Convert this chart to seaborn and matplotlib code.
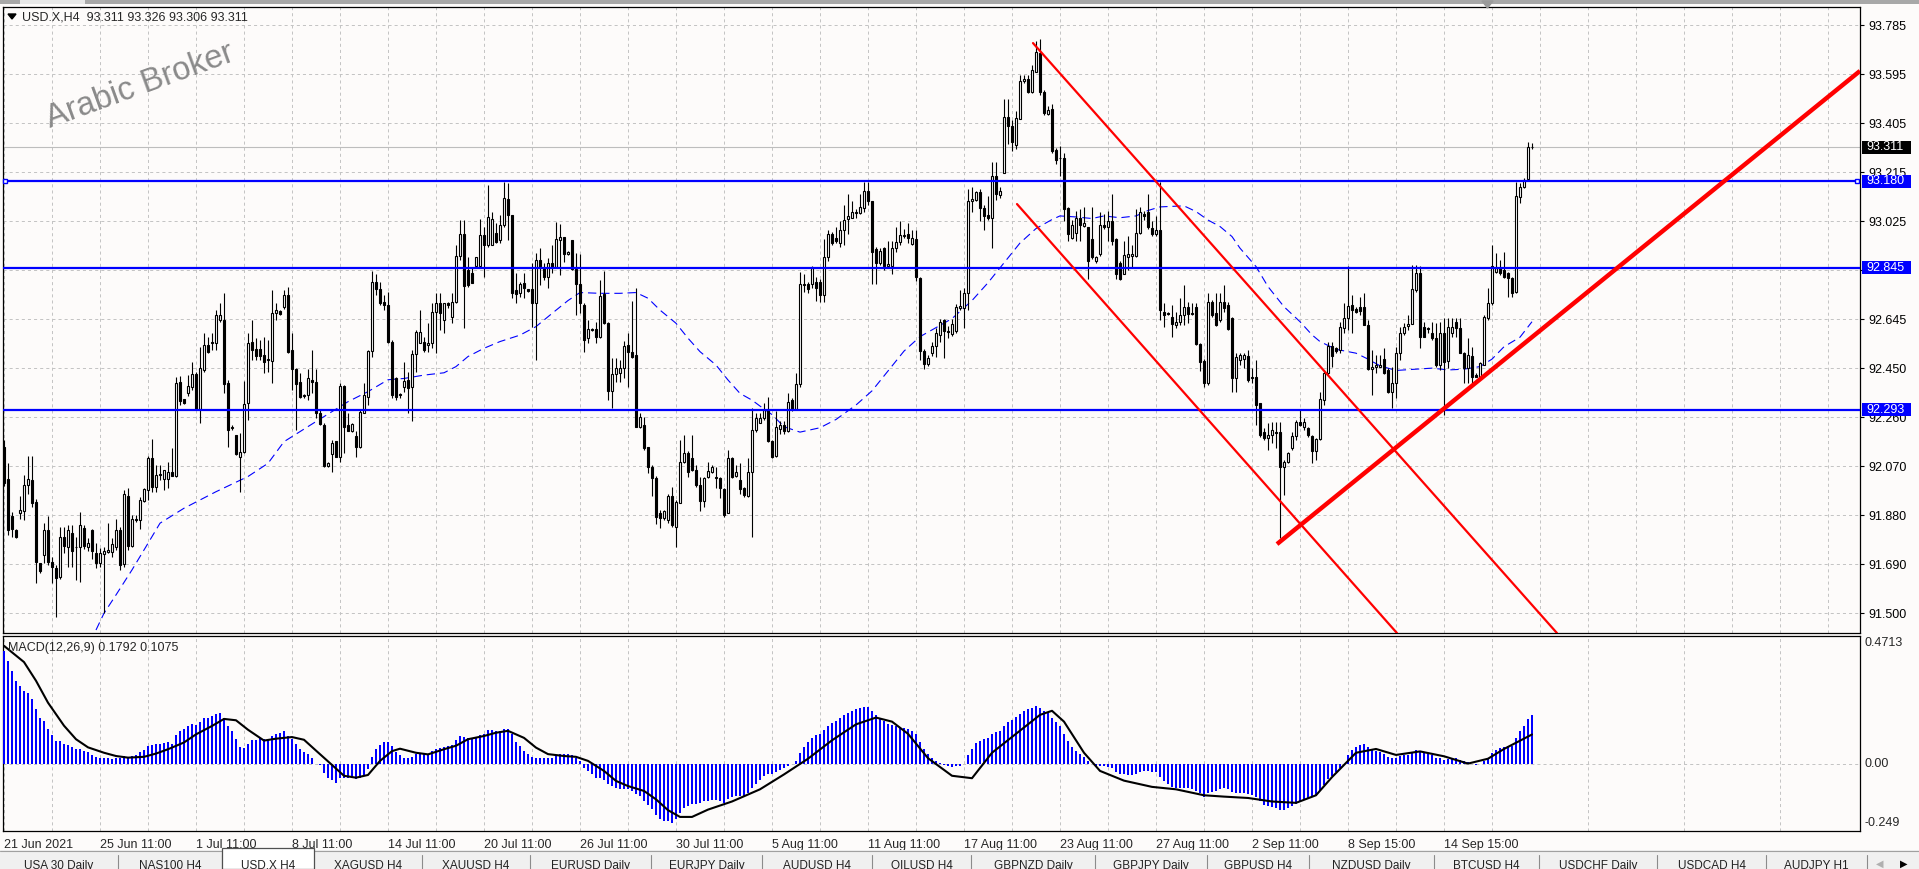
import numpy as np
import matplotlib
matplotlib.use('Agg')
import matplotlib.pyplot as plt
import matplotlib.transforms as mtransforms
from matplotlib.patches import Rectangle, Polygon
import seaborn as sns

sns.set_style('white')
plt.rcParams['font.family'] = ['Liberation Sans', 'DejaVu Sans']
plt.rcParams['lines.scale_dashes'] = False

# ---- USD.X H4 candles (bar 0 = 21 Jun 2021) ----
opens = [
    92.151, 92.025, 91.882, 91.828, 91.895, 91.903, 92.002, 92.021, 91.937, 91.699,
    91.731, 91.828, 91.705, 91.679, 91.644, 91.800, 91.763, 91.817, 91.760, 91.760,
    91.835, 91.763, 91.828, 91.740, 91.699, 91.735, 91.743, 91.743, 91.760, 91.828,
    91.696, 91.960, 91.766, 91.869, 91.866, 91.940, 91.983, 92.105, 91.996, 92.043,
    92.024, 92.024, 92.052, 92.037, 92.403, 92.334, 92.360, 92.383, 92.431, 92.297,
    92.448, 92.545, 92.555, 92.551, 92.640, 92.642, 92.396, 92.223, 92.196, 92.112,
    92.131, 92.320, 92.555, 92.528, 92.528, 92.505, 92.489, 92.484, 92.668, 92.677,
    92.693, 92.739, 92.525, 92.450, 92.400, 92.352, 92.350, 92.409, 92.400, 92.280,
    92.236, 92.076, 92.122, 92.173, 92.112, 92.386, 92.235, 92.213, 92.192, 92.148,
    92.280, 92.345, 92.522, 92.790, 92.760, 92.710, 92.700, 92.558, 92.415, 92.355,
    92.380, 92.409, 92.383, 92.510, 92.551, 92.558, 92.545, 92.551, 92.674, 92.709,
    92.640, 92.709, 92.654, 92.713, 92.890, 92.975, 92.836, 92.823, 92.851, 92.851,
    92.971, 92.933, 92.933, 92.977, 92.952, 93.010, 93.110, 93.050, 92.758, 92.745,
    92.786, 92.760, 92.760, 92.709, 92.874, 92.842, 92.810, 92.864, 92.846, 92.952,
    92.962, 92.897, 92.952, 92.838, 92.781, 92.700, 92.571, 92.605, 92.605, 92.574,
    92.742, 92.631, 92.368, 92.431, 92.435, 92.454, 92.545, 92.519, 92.506, 92.228,
    92.235, 92.151, 92.073, 92.028, 91.895, 91.876, 91.867, 91.960, 91.838, 91.931,
    92.090, 92.128, 92.108, 92.060, 92.002, 91.941, 92.034, 92.053, 92.034, 92.028,
    91.985, 91.895, 92.108, 92.038, 92.021, 91.989, 91.960, 92.053, 92.215, 92.244,
    92.260, 92.293, 92.174, 92.116, 92.219, 92.235, 92.210, 92.332, 92.298, 92.395,
    92.780, 92.780, 92.780, 92.787, 92.787, 92.740, 92.884, 92.975, 92.961, 92.940,
    92.989, 93.034, 93.038, 93.059, 93.056, 93.076, 93.140, 93.104, 92.916, 92.863,
    92.919, 92.849, 92.852, 92.922, 92.943, 92.968, 92.975, 92.937, 92.954, 92.803,
    92.521, 92.472, 92.514, 92.542, 92.584, 92.640, 92.598, 92.587, 92.598, 92.689,
    92.689, 92.745, 93.103, 93.108, 93.136, 93.076, 93.048, 93.038, 93.198, 93.126,
    93.212, 93.429, 93.394, 93.321, 93.419, 93.569, 93.576, 93.527, 93.603, 93.676,
    93.527, 93.439, 93.461, 93.299, 93.271, 93.268, 93.076, 92.961, 92.978, 93.038,
    93.007, 93.003, 92.954, 92.870, 92.898, 93.010, 93.003, 93.024, 92.954, 92.863,
    92.821, 92.884, 92.891, 92.891, 92.978, 93.052, 93.059, 93.000, 92.975, 92.991,
    92.674, 92.670, 92.655, 92.622, 92.635, 92.661, 92.693, 92.670, 92.693, 92.549,
    92.484, 92.396, 92.713, 92.670, 92.642, 92.713, 92.700, 92.648, 92.416, 92.487,
    92.489, 92.502, 92.422, 92.422, 92.319, 92.209, 92.183, 92.196, 92.209, 92.209,
    92.073, 92.092, 92.144, 92.192, 92.248, 92.228, 92.222, 92.192, 92.135, 92.180,
    92.332, 92.435, 92.541, 92.532, 92.526, 92.610, 92.648, 92.700, 92.683, 92.693,
    92.691, 92.622, 92.451, 92.458, 92.461, 92.489, 92.448, 92.364, 92.396, 92.513,
    92.590, 92.619, 92.626, 92.758, 92.825, 92.613, 92.610, 92.590, 92.571, 92.467,
    92.590, 92.484, 92.590, 92.635, 92.610, 92.515, 92.455, 92.502, 92.428, 92.422,
    92.467, 92.648, 92.706, 92.829, 92.842, 92.836, 92.823, 92.803, 92.751, 93.120,
    93.159, 93.190, 93.311,
]
highs = [
    92.177, 92.089, 91.899, 91.830, 91.960, 92.041, 92.116, 92.116, 91.947, 91.700,
    91.854, 91.882, 91.724, 91.692, 91.838, 91.838, 91.847, 91.847, 91.802, 91.899,
    91.847, 91.795, 91.832, 91.779, 91.757, 91.763, 91.853, 91.795, 91.869, 91.838,
    91.983, 91.990, 91.885, 91.885, 91.957, 91.990, 92.116, 92.180, 92.080, 92.080,
    92.060, 92.093, 92.144, 92.422, 92.425, 92.336, 92.428, 92.480, 92.441, 92.538,
    92.590, 92.577, 92.590, 92.680, 92.706, 92.745, 92.409, 92.235, 92.196, 92.203,
    92.407, 92.590, 92.642, 92.570, 92.564, 92.577, 92.564, 92.758, 92.706, 92.680,
    92.758, 92.770, 92.590, 92.455, 92.435, 92.355, 92.450, 92.525, 92.450, 92.293,
    92.241, 92.093, 92.177, 92.173, 92.399, 92.390, 92.280, 92.244, 92.213, 92.293,
    92.396, 92.525, 92.830, 92.820, 92.790, 92.740, 92.750, 92.564, 92.422, 92.360,
    92.480, 92.441, 92.525, 92.603, 92.680, 92.577, 92.629, 92.706, 92.745, 92.745,
    92.709, 92.710, 92.745, 92.932, 93.030, 93.030, 92.887, 92.842, 92.887, 93.032,
    93.003, 93.165, 93.062, 93.016, 93.049, 93.178, 93.171, 93.050, 92.822, 92.790,
    92.822, 92.760, 92.861, 92.900, 92.919, 92.861, 92.881, 92.932, 93.023, 93.014,
    92.965, 92.910, 92.952, 92.900, 92.897, 92.706, 92.641, 92.610, 92.635, 92.797,
    92.833, 92.635, 92.493, 92.493, 92.487, 92.561, 92.590, 92.717, 92.764, 92.280,
    92.267, 92.151, 92.080, 92.037, 91.905, 91.905, 91.967, 91.995, 91.944, 92.176,
    92.196, 92.132, 92.196, 92.080, 92.034, 92.034, 92.092, 92.080, 92.073, 92.034,
    91.989, 92.138, 92.112, 92.079, 92.086, 91.995, 92.105, 92.299, 92.280, 92.280,
    92.319, 92.344, 92.177, 92.290, 92.249, 92.250, 92.360, 92.340, 92.437, 92.828,
    92.821, 92.787, 92.850, 92.807, 92.801, 92.954, 92.989, 92.982, 93.003, 93.024,
    93.087, 93.129, 93.101, 93.073, 93.129, 93.178, 93.178, 93.104, 92.926, 92.919,
    92.926, 92.947, 92.947, 93.003, 93.024, 92.996, 93.017, 92.989, 92.989, 92.807,
    92.528, 92.507, 92.556, 92.612, 92.647, 92.647, 92.619, 92.647, 92.703, 92.759,
    92.766, 93.150, 93.157, 93.143, 93.150, 93.087, 93.122, 93.254, 93.254, 93.157,
    93.499, 93.499, 93.415, 93.450, 93.590, 93.590, 93.590, 93.631, 93.722, 93.729,
    93.534, 93.471, 93.478, 93.310, 93.317, 93.289, 93.080, 93.031, 93.066, 93.073,
    93.080, 93.003, 93.080, 92.891, 93.059, 93.052, 93.066, 93.129, 92.961, 92.870,
    92.947, 92.968, 92.933, 93.073, 93.080, 93.066, 93.129, 93.024, 93.045, 93.177,
    92.709, 92.674, 92.700, 92.674, 92.726, 92.777, 92.713, 92.709, 92.706, 92.551,
    92.489, 92.745, 92.719, 92.745, 92.745, 92.777, 92.713, 92.655, 92.513, 92.513,
    92.513, 92.526, 92.455, 92.487, 92.319, 92.222, 92.241, 92.248, 92.248, 92.248,
    92.099, 92.131, 92.209, 92.254, 92.293, 92.260, 92.228, 92.196, 92.183, 92.364,
    92.448, 92.558, 92.558, 92.538, 92.635, 92.706, 92.849, 92.739, 92.693, 92.732,
    92.745, 92.642, 92.525, 92.506, 92.506, 92.532, 92.455, 92.461, 92.538, 92.616,
    92.631, 92.661, 92.855, 92.855, 92.849, 92.635, 92.613, 92.635, 92.629, 92.635,
    92.648, 92.648, 92.648, 92.648, 92.648, 92.519, 92.571, 92.538, 92.435, 92.480,
    92.661, 92.765, 92.932, 92.900, 92.874, 92.907, 92.829, 92.810, 93.178, 93.171,
    93.191, 93.333, 93.326,
]
lows = [
    92.000, 91.808, 91.799, 91.795, 91.869, 91.866, 91.967, 91.918, 91.624, 91.660,
    91.699, 91.691, 91.624, 91.490, 91.637, 91.737, 91.686, 91.686, 91.634, 91.627,
    91.753, 91.748, 91.714, 91.679, 91.686, 91.505, 91.737, 91.724, 91.750, 91.673,
    91.686, 91.750, 91.763, 91.860, 91.830, 91.938, 91.944, 91.976, 91.976, 92.022,
    91.983, 91.990, 92.037, 92.035, 92.312, 92.315, 92.347, 92.370, 92.293, 92.241,
    92.441, 92.513, 92.525, 92.525, 92.635, 92.358, 92.151, 92.215, 92.119, 91.976,
    92.125, 92.254, 92.487, 92.487, 92.487, 92.435, 92.441, 92.396, 92.642, 92.660,
    92.686, 92.513, 92.370, 92.215, 92.338, 92.340, 92.332, 92.358, 92.261, 92.235,
    92.073, 92.070, 92.054, 92.109, 92.093, 92.125, 92.210, 92.209, 92.112, 92.144,
    92.280, 92.312, 92.500, 92.740, 92.700, 92.680, 92.551, 92.338, 92.331, 92.340,
    92.364, 92.280, 92.251, 92.441, 92.551, 92.519, 92.519, 92.532, 92.515, 92.603,
    92.593, 92.690, 92.631, 92.706, 92.874, 92.609, 92.771, 92.784, 92.851, 92.851,
    92.810, 92.926, 92.940, 92.939, 92.939, 93.003, 92.952, 92.726, 92.706, 92.732,
    92.726, 92.750, 92.616, 92.487, 92.777, 92.797, 92.764, 92.823, 92.842, 92.816,
    92.868, 92.895, 92.835, 92.661, 92.667, 92.519, 92.551, 92.600, 92.551, 92.571,
    92.626, 92.331, 92.300, 92.403, 92.403, 92.416, 92.380, 92.493, 92.225, 92.222,
    92.138, 92.047, 91.960, 91.850, 91.834, 91.867, 91.853, 91.840, 91.760, 91.931,
    92.086, 92.034, 92.057, 91.995, 91.903, 91.918, 92.028, 92.050, 91.989, 91.951,
    91.879, 91.892, 92.028, 92.034, 91.967, 91.957, 91.957, 91.800, 92.209, 92.241,
    92.254, 92.170, 92.105, 92.109, 92.200, 92.200, 92.207, 92.290, 92.298, 92.380,
    92.752, 92.745, 92.765, 92.717, 92.710, 92.710, 92.870, 92.933, 92.940, 92.926,
    92.933, 92.975, 93.038, 93.038, 93.052, 93.059, 93.087, 92.780, 92.780, 92.856,
    92.835, 92.842, 92.821, 92.905, 92.933, 92.960, 92.940, 92.933, 92.793, 92.486,
    92.451, 92.465, 92.503, 92.500, 92.556, 92.493, 92.570, 92.580, 92.591, 92.682,
    92.612, 92.682, 93.059, 93.101, 93.024, 92.989, 93.031, 92.922, 93.108, 93.115,
    93.212, 93.324, 93.296, 93.303, 93.419, 93.562, 93.520, 93.520, 93.603, 93.513,
    93.436, 93.436, 93.289, 93.247, 93.199, 93.024, 92.947, 92.954, 92.947, 92.947,
    93.003, 92.800, 92.877, 92.863, 92.891, 92.996, 92.947, 92.933, 92.800, 92.796,
    92.821, 92.835, 92.842, 92.884, 92.975, 93.031, 92.996, 92.968, 92.968, 92.642,
    92.616, 92.661, 92.577, 92.610, 92.623, 92.623, 92.629, 92.661, 92.545, 92.442,
    92.383, 92.390, 92.655, 92.619, 92.635, 92.674, 92.603, 92.364, 92.364, 92.467,
    92.455, 92.403, 92.396, 92.235, 92.190, 92.177, 92.138, 92.164, 92.144, 91.796,
    91.964, 92.086, 92.138, 92.177, 92.229, 92.215, 92.190, 92.086, 92.099, 92.177,
    92.312, 92.429, 92.461, 92.513, 92.513, 92.590, 92.603, 92.590, 92.668, 92.661,
    92.622, 92.448, 92.351, 92.435, 92.461, 92.432, 92.358, 92.299, 92.338, 92.487,
    92.584, 92.603, 92.626, 92.751, 92.532, 92.574, 92.590, 92.564, 92.461, 92.448,
    92.274, 92.455, 92.577, 92.577, 92.513, 92.396, 92.396, 92.390, 92.420, 92.416,
    92.467, 92.642, 92.700, 92.823, 92.816, 92.803, 92.732, 92.732, 92.745, 93.094,
    93.153, 93.188, 93.306,
]
closes = [
    92.009, 91.828, 91.830, 91.802, 91.905, 92.002, 92.025, 91.931, 91.705, 91.670,
    91.828, 91.705, 91.686, 91.640, 91.802, 91.766, 91.828, 91.748, 91.761, 91.847,
    91.766, 91.776, 91.746, 91.699, 91.740, 91.745, 91.750, 91.775, 91.828, 91.692,
    91.967, 91.766, 91.869, 91.866, 91.942, 91.987, 92.105, 91.996, 92.041, 92.040,
    92.060, 92.054, 92.037, 92.399, 92.329, 92.319, 92.386, 92.431, 92.297, 92.454,
    92.545, 92.519, 92.552, 92.660, 92.661, 92.394, 92.215, 92.228, 92.122, 92.129,
    92.316, 92.551, 92.525, 92.504, 92.504, 92.480, 92.485, 92.668, 92.680, 92.664,
    92.739, 92.519, 92.450, 92.394, 92.345, 92.346, 92.415, 92.403, 92.280, 92.240,
    92.076, 92.089, 92.164, 92.112, 92.384, 92.226, 92.213, 92.240, 92.148, 92.284,
    92.350, 92.522, 92.790, 92.760, 92.706, 92.700, 92.558, 92.351, 92.344, 92.349,
    92.405, 92.377, 92.510, 92.596, 92.596, 92.525, 92.554, 92.674, 92.706, 92.670,
    92.709, 92.700, 92.713, 92.890, 92.975, 92.773, 92.778, 92.786, 92.887, 92.971,
    92.933, 93.042, 93.032, 92.945, 93.010, 93.113, 93.050, 92.745, 92.742, 92.781,
    92.765, 92.755, 92.709, 92.874, 92.848, 92.810, 92.864, 92.846, 92.954, 92.965,
    92.898, 92.907, 92.838, 92.781, 92.706, 92.564, 92.605, 92.603, 92.574, 92.735,
    92.629, 92.368, 92.431, 92.455, 92.454, 92.541, 92.519, 92.499, 92.228, 92.264,
    92.144, 92.071, 92.028, 91.879, 91.873, 91.902, 91.960, 91.847, 91.937, 92.090,
    92.125, 92.054, 92.060, 92.002, 91.941, 92.028, 92.056, 92.073, 92.028, 91.989,
    91.886, 92.105, 92.034, 92.053, 91.985, 91.963, 92.053, 92.215, 92.260, 92.260,
    92.293, 92.174, 92.112, 92.228, 92.235, 92.210, 92.325, 92.298, 92.395, 92.780,
    92.777, 92.763, 92.842, 92.765, 92.740, 92.884, 92.975, 92.940, 92.947, 92.989,
    93.031, 93.045, 93.059, 93.055, 93.080, 93.140, 93.104, 92.905, 92.863, 92.908,
    92.852, 92.860, 92.922, 92.943, 92.971, 92.972, 92.961, 92.958, 92.807, 92.521,
    92.472, 92.493, 92.542, 92.591, 92.633, 92.598, 92.595, 92.626, 92.693, 92.696,
    92.745, 93.103, 93.112, 93.136, 93.076, 93.045, 93.038, 93.198, 93.129, 93.143,
    93.429, 93.394, 93.331, 93.425, 93.569, 93.576, 93.527, 93.610, 93.680, 93.527,
    93.443, 93.457, 93.296, 93.261, 93.268, 93.073, 92.975, 93.010, 93.038, 93.010,
    93.017, 92.870, 92.884, 92.884, 93.010, 93.003, 93.024, 92.947, 92.821, 92.800,
    92.894, 92.898, 92.898, 92.978, 93.059, 93.045, 93.003, 92.975, 92.992, 92.681,
    92.661, 92.665, 92.626, 92.635, 92.661, 92.693, 92.665, 92.665, 92.549, 92.480,
    92.396, 92.713, 92.661, 92.622, 92.713, 92.687, 92.606, 92.416, 92.500, 92.506,
    92.506, 92.409, 92.416, 92.312, 92.196, 92.183, 92.196, 92.215, 92.202, 92.073,
    92.092, 92.125, 92.192, 92.248, 92.235, 92.248, 92.196, 92.135, 92.180, 92.334,
    92.435, 92.541, 92.502, 92.523, 92.613, 92.648, 92.696, 92.681, 92.674, 92.678,
    92.622, 92.451, 92.458, 92.467, 92.467, 92.435, 92.364, 92.396, 92.515, 92.593,
    92.613, 92.626, 92.761, 92.825, 92.577, 92.577, 92.607, 92.571, 92.467, 92.590,
    92.480, 92.616, 92.616, 92.610, 92.515, 92.455, 92.506, 92.422, 92.422, 92.474,
    92.655, 92.706, 92.849, 92.842, 92.823, 92.810, 92.803, 92.748, 93.122, 93.159,
    93.184, 93.314, 93.311,
]

# dashed moving average (bar index, value)
ma_bar = [23, 25, 28, 32, 36, 39, 45, 53, 61, 66, 70, 78, 86, 91, 96, 100, 105, 110, 113,
          116, 120, 124, 129, 133, 137, 141, 144, 149, 154, 158, 161, 164, 168, 171, 174,
          178, 181, 184, 187, 189, 192, 195, 199, 204, 208, 213, 217, 221, 225, 229, 233,
          237, 242, 246, 250, 254, 258, 262, 264, 268, 272, 275, 279, 283, 286, 289, 295,
          298, 301, 304, 307, 309, 313, 316, 320, 324, 327, 329, 333, 335, 338, 341, 344,
          348, 353, 357, 361, 365, 369, 372, 375, 379, 382]
ma_val = [91.44, 91.505, 91.576, 91.673, 91.776, 91.854, 91.912, 91.976, 92.035, 92.086,
          92.17, 92.248, 92.325, 92.364, 92.41, 92.415, 92.428, 92.437, 92.461, 92.5,
          92.532, 92.558, 92.583, 92.616, 92.667, 92.717, 92.748, 92.745, 92.745, 92.748,
          92.726, 92.68, 92.629, 92.571, 92.519, 92.467, 92.409, 92.357, 92.331, 92.308,
          92.275, 92.228, 92.207, 92.224, 92.256, 92.312, 92.367, 92.444, 92.521, 92.577,
          92.612, 92.647, 92.717, 92.786, 92.863, 92.94, 92.996, 93.031, 93.045, 93.041,
          93.035, 93.045, 93.038, 93.045, 93.066, 93.08, 93.084, 93.062, 93.029, 93.004,
          92.965, 92.92, 92.849, 92.771, 92.693, 92.635, 92.584, 92.558, 92.528, 92.522,
          92.513, 92.49, 92.464, 92.446, 92.451, 92.455, 92.448, 92.451, 92.461, 92.49,
          92.538, 92.575, 92.635]

# MACD(12,26,9) main values (histogram), one per bar
macd_main = [
    0.416, 0.379, 0.342, 0.306, 0.287, 0.269, 0.259, 0.238, 0.201, 0.170,
    0.158, 0.127, 0.106, 0.084, 0.082, 0.074, 0.069, 0.062, 0.055, 0.055,
    0.047, 0.041, 0.031, 0.025, 0.022, 0.019, 0.019, 0.016, 0.019, 0.022,
    0.028, 0.025, 0.028, 0.032, 0.041, 0.049, 0.065, 0.069, 0.071, 0.074,
    0.077, 0.080, 0.074, 0.106, 0.121, 0.127, 0.139, 0.148, 0.143, 0.155,
    0.168, 0.170, 0.175, 0.182, 0.187, 0.170, 0.139, 0.121, 0.090, 0.062,
    0.059, 0.071, 0.086, 0.086, 0.094, 0.090, 0.086, 0.102, 0.108, 0.114,
    0.121, 0.102, 0.090, 0.071, 0.053, 0.041, 0.034, 0.022, 0.000, -0.005,
    -0.033, -0.052, -0.062, -0.070, -0.052, -0.054, -0.054, -0.054, -0.058, -0.054,
    -0.042, -0.021, 0.025, 0.053, 0.069, 0.081, 0.081, 0.065, 0.044, 0.032,
    0.022, 0.019, 0.025, 0.036, 0.039, 0.036, 0.036, 0.046, 0.053, 0.056,
    0.062, 0.065, 0.069, 0.086, 0.102, 0.098, 0.096, 0.096, 0.096, 0.106,
    0.108, 0.123, 0.123, 0.121, 0.121, 0.127, 0.127, 0.108, 0.081, 0.065,
    0.046, 0.036, 0.025, 0.022, 0.022, 0.022, 0.022, 0.022, 0.028, 0.034,
    0.034, 0.034, 0.032, 0.022, 0.010, -0.015, -0.027, -0.039, -0.052, -0.052,
    -0.062, -0.077, -0.083, -0.089, -0.095, -0.095, -0.095, -0.101, -0.111, -0.120,
    -0.138, -0.154, -0.169, -0.190, -0.206, -0.212, -0.212, -0.218, -0.206, -0.181,
    -0.163, -0.157, -0.150, -0.150, -0.145, -0.140, -0.138, -0.135, -0.135, -0.138,
    -0.145, -0.130, -0.125, -0.120, -0.120, -0.120, -0.110, -0.090, -0.075, -0.060,
    -0.045, -0.040, -0.038, -0.030, -0.022, -0.018, -0.008, -0.002, 0.010, 0.040,
    0.062, 0.080, 0.095, 0.105, 0.110, 0.125, 0.140, 0.150, 0.158, 0.168,
    0.178, 0.186, 0.193, 0.200, 0.205, 0.210, 0.210, 0.195, 0.180, 0.170,
    0.158, 0.148, 0.142, 0.138, 0.135, 0.132, 0.128, 0.122, 0.108, 0.080,
    0.055, 0.035, 0.020, 0.010, 0.002, -0.005, -0.010, -0.012, -0.010, -0.008,
    -0.002, 0.030, 0.055, 0.075, 0.085, 0.090, 0.095, 0.108, 0.115, 0.120,
    0.140, 0.155, 0.162, 0.172, 0.185, 0.195, 0.200, 0.205, 0.212, 0.205,
    0.195, 0.188, 0.170, 0.152, 0.138, 0.110, 0.082, 0.062, 0.048, 0.035,
    0.025, 0.008, -0.002, -0.010, -0.008, -0.010, -0.012, -0.018, -0.030, -0.040,
    -0.040, -0.042, -0.042, -0.038, -0.030, -0.028, -0.028, -0.030, -0.030, -0.050,
    -0.065, -0.075, -0.085, -0.090, -0.092, -0.090, -0.092, -0.093, -0.100, -0.110,
    -0.122, -0.110, -0.105, -0.102, -0.095, -0.092, -0.093, -0.105, -0.108, -0.108,
    -0.108, -0.112, -0.115, -0.125, -0.140, -0.152, -0.158, -0.162, -0.165, -0.172,
    -0.170, -0.165, -0.158, -0.148, -0.140, -0.132, -0.128, -0.125, -0.118, -0.100,
    -0.080, -0.058, -0.045, -0.032, -0.015, 0.000, 0.030, 0.050, 0.062, 0.070,
    0.072, 0.060, 0.050, 0.045, 0.042, 0.035, 0.025, 0.020, 0.022, 0.028,
    0.030, 0.032, 0.042, 0.050, 0.045, 0.040, 0.036, 0.032, 0.022, 0.022,
    0.015, 0.018, 0.020, 0.020, 0.015, 0.008, 0.006, 0.000, -0.004, -0.003,
    0.010, 0.022, 0.040, 0.050, 0.058, 0.062, 0.065, 0.065, 0.095, 0.120,
    0.140, 0.165, 0.179,
]
# MACD signal line (bar index, value)
sig_bar = [0, 5, 8, 11, 15, 18, 21, 25, 28, 31, 35, 38, 41, 45, 48, 52, 55, 58, 61, 65,
           68, 72, 75, 78, 82, 85, 88, 91, 94, 97, 99, 103, 106, 110, 113, 116, 120, 123,
           126, 130, 133, 136, 140, 143, 146, 150, 153, 156, 160, 163, 166, 169, 172, 176,
           182, 189, 195, 201, 207, 213, 218, 222, 226, 231, 237, 242, 247, 253, 259, 262,
           265, 270, 274, 280, 287, 293, 300, 305, 311, 317, 323, 328, 332, 338, 343, 348,
           354, 360, 366, 371, 375, 382]
sig_val = [0.435, 0.375, 0.306, 0.225, 0.14, 0.09, 0.06, 0.04, 0.028, 0.022, 0.025, 0.037,
           0.053, 0.078, 0.108, 0.139, 0.165, 0.16, 0.125, 0.085, 0.092, 0.098, 0.088, 0.048,
           -0.005, -0.045, -0.052, -0.042, 0.01, 0.046, 0.055, 0.04, 0.034, 0.053, 0.066,
           0.09, 0.102, 0.114, 0.121, 0.095, 0.059, 0.035, 0.028, 0.025, 0.01, -0.027,
           -0.064, -0.083, -0.101, -0.132, -0.172, -0.197, -0.197, -0.17, -0.14, -0.095,
           -0.04, 0.018, 0.086, 0.145, 0.17, 0.155, 0.11, 0.02, -0.045, -0.054, 0.04, 0.11,
           0.18, 0.195, 0.155, 0.04, -0.027, -0.063, -0.086, -0.095, -0.117, -0.122,
           -0.127, -0.14, -0.145, -0.117, -0.05, 0.04, 0.054, 0.032, 0.045, 0.027, 0.0,
           0.018, 0.054, 0.1075]

# horizontal levels and trend lines drawn on the chart
levels = [93.180, 92.845, 92.293]
bid = 93.311
channel_top = ([257.25, 388.25], [93.715, 91.428])
channel_bottom = ([253.25, 348.25], [93.091, 91.428])
uptrend = ([318.25, 464.0], [91.773, 93.607])

x_labels = ['21 Jun 2021', '25 Jun 11:00', '1 Jul 11:00', '8 Jul 11:00', '14 Jul 11:00',
            '20 Jul 11:00', '26 Jul 11:00', '30 Jul 11:00', '5 Aug 11:00', '11 Aug 11:00',
            '17 Aug 11:00', '23 Aug 11:00', '27 Aug 11:00', '2 Sep 11:00', '8 Sep 15:00',
            '14 Sep 15:00']
# the grid step at 92.835 sits under the 92.845 box, so no text is shown there
price_labels = ['93.785', '93.595', '93.405', '93.215', '93.025', '', '92.645',
                '92.450', '92.260', '92.070', '91.880', '91.690', '91.500']
tab_names = ['USA 30 Daily', 'NAS100 H4', 'USD.X H4', 'XAGUSD H4', 'XAUUSD H4',
             'EURUSD Daily', 'EURJPY Daily', 'AUDUSD H4', 'OILUSD H4', 'GBPNZD Daily',
             'GBPJPY Daily', 'GBPUSD H4', 'NZDUSD Daily', 'BTCUSD H4', 'USDCHF Daily',
             'USDCAD H4', 'AUDJPY H1']

# ---------------- drawing ----------------
W, H = 1919, 869
BG = '#fdfbfa'
BLUE = '#0000ff'
GRID = '#c4c4c4'


def fx(px):
    return px / W


def fy(py):
    return 1 - py / H


fig = plt.figure(figsize=(W / 100, H / 100), dpi=100)
fig.patch.set_facecolor(BG)

ax = fig.add_axes([fx(3), fy(633), (1860 - 3) / W, (633 - 7) / H])
axm = fig.add_axes([fx(3), fy(831), (1860 - 3) / W, (831 - 636) / H])

o = np.array(opens)
h = np.array(highs)
l = np.array(lows)
c = np.array(closes)
xb = np.arange(len(c))

for a in (ax, axm):
    a.set_facecolor(BG)
    a.set_xlim(-0.25, 464)
    for s in a.spines.values():
        s.set_color('black')
        s.set_linewidth(0.9)
    a.set_axisbelow(True)
    a.grid(True, which='both', color=GRID, linestyle=(0, (2.2, 2.2)), linewidth=0.72)

# candles
top = np.maximum(h, np.maximum(o, c))
bot = np.minimum(l, np.minimum(o, c))
ax.vlines(xb, bot, top, color='black', linewidth=0.8, zorder=3)
body_b = np.minimum(o, c)
body_h = np.abs(c - o)
face = np.where(c >= o, 'white', 'black')
ax.bar(xb, body_h, bottom=body_b, width=0.55, color=face, edgecolor='black',
       linewidth=0.8, zorder=4)

# moving average
sns.lineplot(x=ma_bar, y=ma_val, ax=ax, color=BLUE, linewidth=0.8, legend=False, zorder=2)
ax.lines[-1].set_dashes((6, 3.5))

# bid line and levels
ax.axhline(bid, color='#bdbdbd', linewidth=0.8, zorder=1)
for lv in levels:
    ax.axhline(lv, color=BLUE, linewidth=1.6, zorder=6)

# trend lines
for xs, ys in (channel_top, channel_bottom):
    ax.plot(xs, ys, color='#ff0000', linewidth=1.6, zorder=7)
ax.plot(uptrend[0], uptrend[1], color='#ff0000', linewidth=3.2, zorder=7,
        solid_capstyle='butt')

# selected-line handles
blend_ax = mtransforms.blended_transform_factory(ax.transAxes, ax.transData)
ax.plot([0.0012, 0.9985], [levels[0], levels[0]], transform=blend_ax, ls='none',
        marker='s', ms=3.5, mfc='white', mec=BLUE, mew=1.0, clip_on=False, zorder=8)

ax.set_ylim(91.4284, 93.8548)
ax.yaxis.tick_right()
ax.set_yticks(np.linspace(93.785, 91.505, 13))
ax.set_yticklabels(price_labels)
ax.tick_params(axis='y', direction='out', length=3, width=0.8, pad=3, labelsize=9,
               colors='black')
ax.set_xticks(np.arange(0, 465, 24))
ax.set_xticks(np.arange(12, 465, 24), minor=True)
ax.tick_params(axis='x', which='both', length=0, labelbottom=False)
ax.set_xlabel('')
ax.set_ylabel('')

# MACD panel
axm.bar(xb, macd_main, width=0.6, color=BLUE, linewidth=0, zorder=3)
sns.lineplot(x=sig_bar, y=sig_val, ax=axm, color='black', linewidth=1.5, legend=False,
             zorder=4)
axm.set_ylim(-0.249, 0.4713)
axm.set_yticks([0.0])
axm.set_yticklabels([])
axm.tick_params(axis='y', length=0, right=False, left=False)
axm.set_xticks(np.arange(0, 465, 24)[:len(x_labels)])
axm.set_xticklabels(x_labels, ha='left', fontsize=9)
axm.set_xticks(np.arange(12, 465, 24), minor=True)
axm.tick_params(axis='x', which='major', direction='out', length=4, width=0.8, pad=2)
axm.tick_params(axis='x', which='minor', length=0)
axm.set_xlabel('')
axm.set_ylabel('')

# right-side MACD scale texts
fig.text(fx(1864), fy(643), '0.4713', fontsize=9, va='center', ha='left')
fig.text(fx(1864), fy(764), '0.00', fontsize=9, va='center', ha='left')
fig.text(fx(1864), fy(823), '-0.249', fontsize=9, va='center', ha='left')
fig.text(fx(8), fy(648), 'MACD(12,26,9) 0.1792 0.1075', fontsize=9, va='center', ha='left')

# price boxes on the right axis
blend_fig = mtransforms.blended_transform_factory(fig.transFigure, ax.transData)
box_h = 13 / 258.0
for val, txt, col in [(bid, '93.311', 'black'), (levels[0], '93.180', BLUE),
                      (levels[1], '92.845', BLUE), (levels[2], '92.293', BLUE)]:
    fig.add_artist(Rectangle((fx(1862), val - box_h / 2), 49 / W, box_h,
                             transform=blend_fig, facecolor=col, edgecolor='none', zorder=5))
    fig.text(fx(1866), val, txt, transform=blend_fig, color='white', fontsize=9,
             va='center', ha='left', zorder=6)

# header and watermark
fig.add_artist(Polygon([[fx(8), fy(14)], [fx(16), fy(14)], [fx(12), fy(19)]],
                       closed=True, transform=fig.transFigure, color='black'))
fig.text(fx(22), fy(17), 'USD.X,H4  93.311 93.326 93.306 93.311', fontsize=9,
         va='center', ha='left')
fig.text(fx(140), fy(86), 'Arabic Broker', fontsize=23.5, color='#8a8a8a', rotation=20,
         ha='center', va='center', rotation_mode='anchor')

# top window strip and chart-shift marker
fig.add_artist(Rectangle((0, fy(4)), 1, 4 / H, transform=fig.transFigure,
                         facecolor='#a8a8a8', edgecolor='none'))
fig.add_artist(Rectangle((fx(20), fy(4)), 65 / W, 4 / H, transform=fig.transFigure,
                         facecolor='#e8e8e8', edgecolor='none'))
fig.add_artist(Polygon([[fx(1482), fy(1)], [fx(1493), fy(1)], [fx(1487.5), fy(8)]],
                       closed=True, transform=fig.transFigure, color='#9a9a9a'))

# bottom tab bar
fig.add_artist(Rectangle((0, 0), 1, 19 / H, transform=fig.transFigure,
                         facecolor='#f0f0f0', edgecolor='none', zorder=2))
fig.add_artist(plt.Line2D([0, 1], [fy(851), fy(851)], transform=fig.transFigure,
                          color='#a0a0a0', linewidth=0.8, zorder=3))
seps = [0, 118, 222, 314, 422, 530, 651, 762, 872, 971, 1095, 1207, 1309, 1434, 1539,
        1657, 1766, 1867]
for i, name in enumerate(tab_names):
    x0, x1 = seps[i], seps[i + 1]
    if name == 'USD.X H4':
        fig.add_artist(Rectangle((fx(x0), 0), (x1 - x0) / W, 21 / H, transform=fig.transFigure,
                                 facecolor='white', edgecolor='#505050', linewidth=0.9,
                                 zorder=4))
    else:
        fig.add_artist(plt.Line2D([fx(x1), fx(x1)], [0, fy(855)], transform=fig.transFigure,
                                  color='#8c8c8c', linewidth=0.8, zorder=3))
    fig.text(fx((x0 + x1) / 2), fy(866), name, fontsize=8.5, ha='center', va='center',
             color='#222222', zorder=5)
fig.text(fx(1880), fy(864), '\u25c0', fontsize=7, ha='center', va='center', color='#b0b0b0',
         family='DejaVu Sans', zorder=5)
fig.text(fx(1904), fy(864), '\u25b6', fontsize=7, ha='center', va='center', color='black',
         family='DejaVu Sans', zorder=5)

fig.savefig('out.png', dpi=100, facecolor=BG)
